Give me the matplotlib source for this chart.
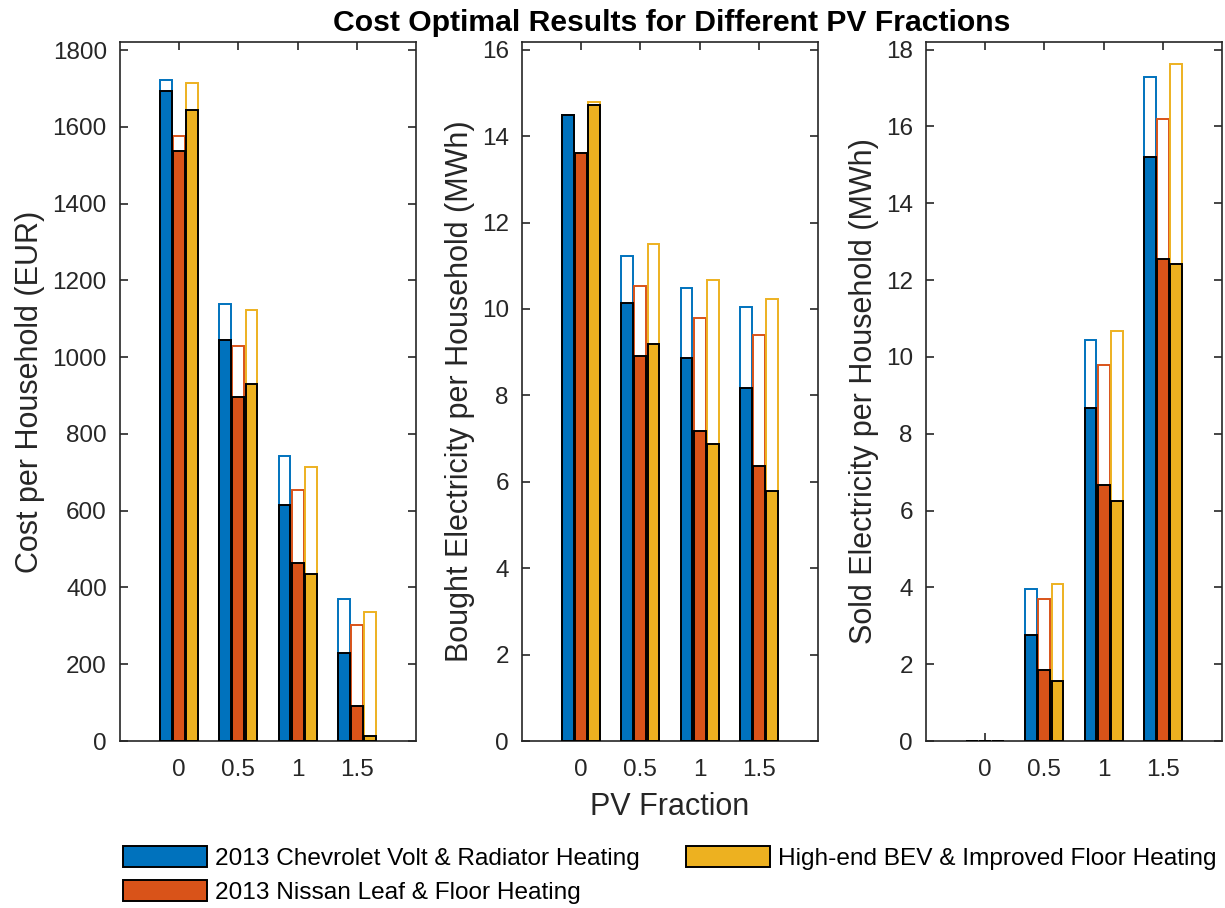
import numpy as np
import matplotlib
matplotlib.use("Agg")
import matplotlib.pyplot as plt

plt.rcParams['font.family'] = ['Liberation Sans', 'DejaVu Sans']

# PV fractions on the x axis
pv = [0, 0.5, 1, 1.5]
series = ['2013 Chevrolet Volt & Radiator Heating',
          '2013 Nissan Leaf & Floor Heating',
          'High-end BEV & Improved Floor Heating']

# cost per household (EUR): outlined (upper) and filled (lower) bars
cost_open = [[1722, 1138, 742, 371],
             [1576, 1029, 653, 303],
             [1715, 1123, 715, 335]]
cost_fill = [[1693, 1044, 616, 229],
             [1537, 897, 465, 92],
             [1645, 929, 434, 14]]

# bought electricity (MWh)
bought_open = [[14.49, 11.23, 10.48, 10.05],
               [13.60, 10.53, 9.79, 9.40],
               [14.78, 11.50, 10.68, 10.24]]
bought_fill = [[14.49, 10.13, 8.86, 8.18],
               [13.60, 8.91, 7.18, 6.36],
               [14.72, 9.20, 6.87, 5.78]]

# sold electricity (MWh)
sold_open = [[0, 3.96, 10.45, 17.30],
             [0, 3.70, 9.79, 16.19],
             [0, 4.08, 10.67, 17.63]]
sold_fill = [[0, 2.77, 8.66, 15.21],
             [0, 1.86, 6.67, 12.55],
             [0, 1.56, 6.26, 12.41]]

colors = ['#0072BD', '#D95319', '#EDB120']
grey = '#262626'

fig = plt.figure(figsize=(12.25, 9.08), dpi=100)

panels = [
    (cost_open, cost_fill, 'Cost per Household (EUR)', 1821, np.arange(0, 1801, 200)),
    (bought_open, bought_fill, 'Bought Electricity per Household (MWh)', 16.18, np.arange(0, 17, 2)),
    (sold_open, sold_fill, 'Sold Electricity per Household (MWh)', 18.2, np.arange(0, 19, 2)),
]
lefts = [120, 522, 926]

x = np.array(pv)
w = 0.1
offs = [-0.111, 0, 0.111]
handles = []
for k, (op, fl, ylab, ytop, yt) in enumerate(panels):
    ax = fig.add_axes([lefts[k] / 1225, 167 / 908, 296 / 1225, 699 / 908])
    for i in range(3):
        ax.bar(x + offs[i], op[i], w, facecolor='none', edgecolor=colors[i], linewidth=1.4, zorder=2)
    for i in range(3):
        b = ax.bar(x + offs[i], fl[i], w, facecolor=colors[i], edgecolor='black', linewidth=1.4,
                   zorder=3, label=series[i])
        if k == 0:
            handles.append(b)
    ax.set_xlim(-0.5, 2)
    ax.set_ylim(0, ytop)
    ax.set_xticks(pv)
    ax.set_xticklabels(['0', '0.5', '1', '1.5'])
    ax.set_yticks(yt)
    ax.tick_params(direction='in', length=6, width=1.2, top=True, right=True,
                   labelsize=17.5, colors=grey)
    ax.tick_params(axis='x', pad=13)
    ax.tick_params(axis='y', pad=9.5)
    for s in ax.spines.values():
        s.set_color(grey)
        s.set_linewidth(1.2)
    ax.set_ylabel(ylab, fontsize=22, color=grey, labelpad=5)
    if k == 1:
        ax.set_xlabel('PV Fraction', fontsize=22, color=grey, labelpad=8)

fig.text(0.548, 0.975, 'Cost Optimal Results for Different PV Fractions',
         ha='center', va='center', fontsize=21.7, fontweight='bold')

fig.legend(handles=handles, labels=series, loc='upper left', ncol=2,
           bbox_to_anchor=(123 / 1225, 1 - 846 / 908), frameon=False,
           fontsize=17.6, handlelength=3.45, handleheight=0.95, handletextpad=0.3,
           columnspacing=1.9, labelspacing=0.4, borderpad=0, borderaxespad=0)

fig.savefig('out.png', dpi=100)
